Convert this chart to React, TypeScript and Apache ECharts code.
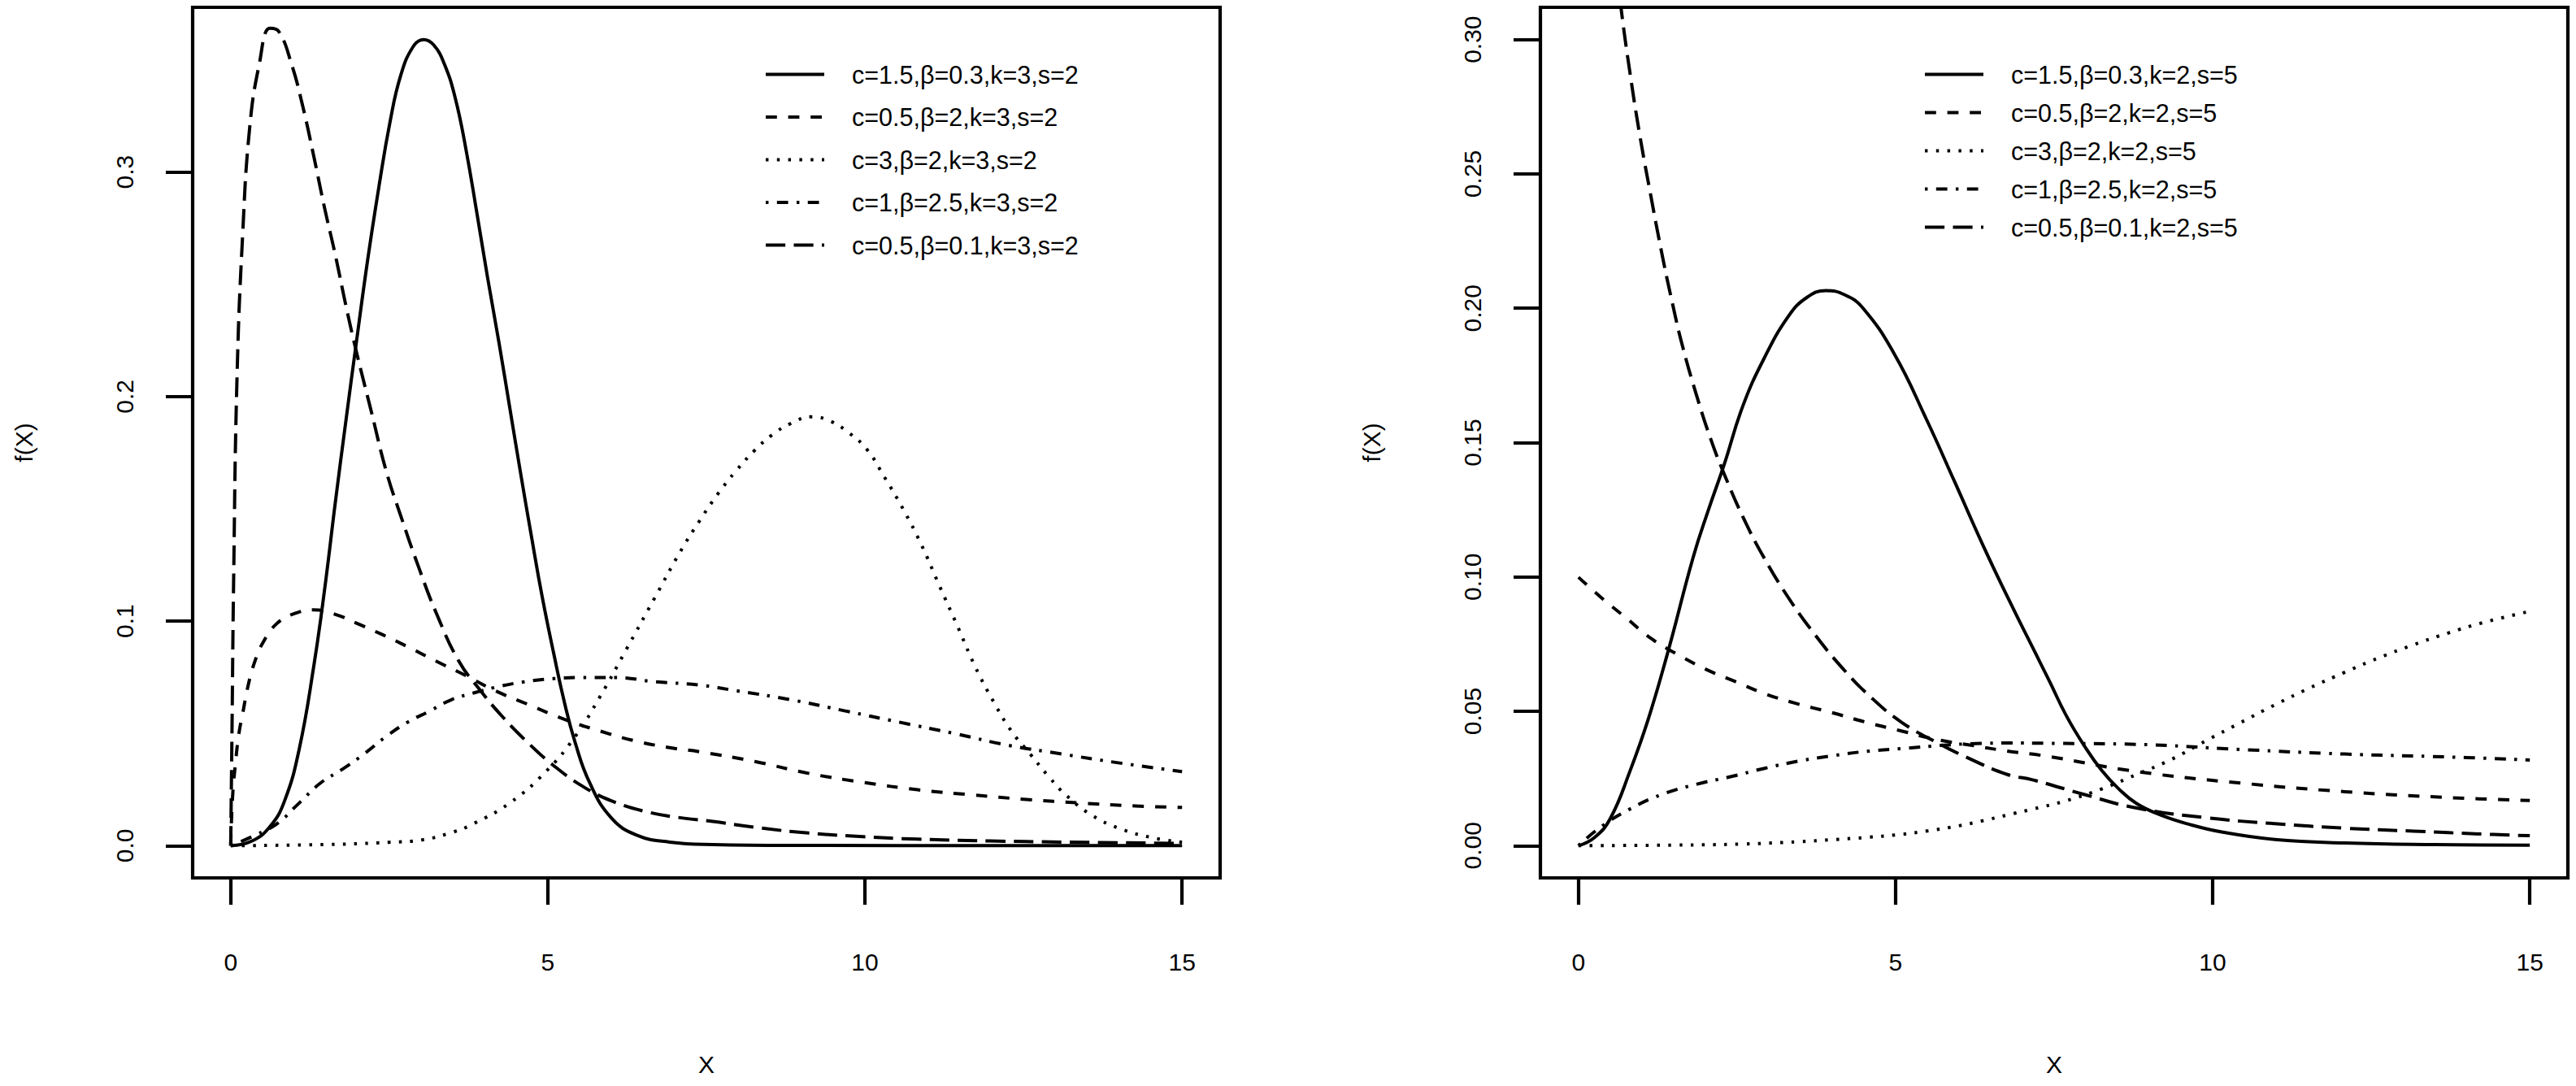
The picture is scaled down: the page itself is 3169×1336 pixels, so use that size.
import React, { useEffect, useRef } from "react";
import * as echarts from "echarts";

// ---------- ticks & labels ----------
const xTicks = [0, 5, 10, 15];
const leftYTicks = [0, 0.1, 0.2, 0.3];
const rightYTicks = [0, 0.05, 0.1, 0.15, 0.2, 0.25, 0.3];

const leftNames = [
  "c=1.5,β=0.3,k=3,s=2",
  "c=0.5,β=2,k=3,s=2",
  "c=3,β=2,k=3,s=2",
  "c=1,β=2.5,k=3,s=2",
  "c=0.5,β=0.1,k=3,s=2",
];
const rightNames = [
  "c=1.5,β=0.3,k=2,s=5",
  "c=0.5,β=2,k=2,s=5",
  "c=3,β=2,k=2,s=5",
  "c=1,β=2.5,k=2,s=5",
  "c=0.5,β=0.1,k=2,s=5",
];

// ---------- left panel (k=3, s=2) ----------
const leftSolid = [
  [0, 0], [0.33, 0.002], [0.62, 0.0085], [0.85, 0.02], [1.08, 0.043], [1.31, 0.08],
  [1.48, 0.114], [1.65, 0.153], [1.82, 0.19], [1.99, 0.226], [2.16, 0.261], [2.34, 0.294],
  [2.51, 0.322], [2.68, 0.343], [2.88, 0.356], [3.04, 0.359], [3.2, 0.3566], [3.37, 0.348],
  [3.54, 0.333], [3.71, 0.31], [3.88, 0.282], [4.05, 0.253], [4.23, 0.224], [4.4, 0.195],
  [4.57, 0.166], [4.74, 0.138], [4.91, 0.111], [5.09, 0.086], [5.26, 0.064], [5.43, 0.046],
  [5.66, 0.028], [6.0, 0.0124], [6.4, 0.0047], [6.92, 0.0016], [7.6, 0.0005], [9, 0.0001],
  [12, 0], [15, 0],
];
const leftDashed = [
  [0, 0], [0.03, 0.022], [0.08, 0.038], [0.13, 0.05], [0.19, 0.059], [0.28, 0.072],
  [0.38, 0.082], [0.5, 0.09], [0.73, 0.099], [1.02, 0.1035], [1.31, 0.105], [1.65, 0.103],
  [1.99, 0.099], [2.39, 0.094], [2.79, 0.0886], [3.25, 0.082], [3.71, 0.0757], [4.17, 0.069],
  [4.68, 0.063], [5.26, 0.0563], [5.83, 0.051], [6.4, 0.0465], [6.98, 0.0434], [7.4, 0.0418],
  [8.26, 0.0375], [9.11, 0.0322], [9.97, 0.0282], [10.83, 0.0249], [11.69, 0.0226],
  [12.54, 0.0206], [13.4, 0.019], [14.26, 0.0177], [15, 0.017],
];
const leftDotted = [
  [0, 0], [1.5, 0.0005], [2.5, 0.0015], [3.02, 0.0026], [3.5, 0.006], [3.83, 0.0098],
  [4.4, 0.019], [4.97, 0.033], [5.43, 0.0486], [5.83, 0.0667], [6.23, 0.087], [6.69, 0.1106],
  [7.09, 0.131], [7.4, 0.145], [7.69, 0.157], [7.97, 0.167], [8.26, 0.176], [8.54, 0.183],
  [8.83, 0.188], [9.17, 0.191], [9.46, 0.189], [9.74, 0.184], [10.03, 0.1765], [10.31, 0.164],
  [10.6, 0.15], [10.89, 0.134], [11.17, 0.116], [11.46, 0.0977], [11.74, 0.0796],
  [12.03, 0.064], [12.31, 0.051], [12.6, 0.041], [12.89, 0.031], [13.17, 0.0225],
  [13.57, 0.0137], [14.03, 0.0075], [14.54, 0.0035], [15, 0.0015],
];
const leftDotdash = [
  [0, 0], [0.39, 0.0047], [0.73, 0.0098], [1.08, 0.019], [1.42, 0.028], [1.76, 0.034],
  [2.11, 0.041], [2.45, 0.0486], [2.79, 0.055], [3.14, 0.06], [3.48, 0.065], [3.83, 0.068],
  [4.17, 0.0705], [4.63, 0.073], [5.09, 0.0744], [5.54, 0.0749], [6.06, 0.0749], [6.69, 0.073],
  [7.4, 0.0715], [7.97, 0.069], [8.83, 0.065], [9.69, 0.06], [10.54, 0.055], [11.4, 0.05],
  [12.26, 0.0447], [13.11, 0.0408], [13.97, 0.037], [15, 0.033],
];
const leftLongdash = [
  [0, 0], [0.02, 0.05], [0.046, 0.118], [0.1, 0.209], [0.19, 0.273], [0.3, 0.32],
  [0.45, 0.348], [0.62, 0.364], [0.76, 0.3625], [0.96, 0.348], [1.13, 0.33], [1.31, 0.307],
  [1.48, 0.284], [1.65, 0.263], [1.82, 0.24], [1.99, 0.219], [2.22, 0.193], [2.45, 0.167],
  [2.68, 0.147], [2.97, 0.1235], [3.25, 0.103], [3.6, 0.082], [3.94, 0.069], [4.28, 0.0576],
  [4.68, 0.046], [5.09, 0.0357], [5.54, 0.0266], [6.0, 0.02], [6.57, 0.015], [7.15, 0.0122],
  [7.6, 0.0108], [8.26, 0.0082], [9.11, 0.0056], [9.97, 0.004], [10.83, 0.0029],
  [11.97, 0.0021], [13.11, 0.0016], [15, 0.001],
];

// ---------- right panel (k=2, s=5) ----------
const rightSolid = [
  [0, 0], [0.25, 0.003], [0.5, 0.01], [0.81, 0.0276], [1.1, 0.047], [1.42, 0.0729],
  [1.81, 0.1074], [2.05, 0.125], [2.3, 0.142], [2.59, 0.1635], [2.92, 0.181], [3.31, 0.197],
  [3.6, 0.204], [3.9, 0.2066], [4.2, 0.205], [4.48, 0.2002], [4.98, 0.183], [5.48, 0.159],
  [5.93, 0.1355], [6.38, 0.1117], [6.77, 0.0923], [7.27, 0.0686], [7.43, 0.061], [7.7, 0.048],
  [7.98, 0.037], [8.25, 0.028], [8.52, 0.0211], [8.8, 0.0157], [9.18, 0.0114], [9.62, 0.008],
  [10.16, 0.005], [10.98, 0.0023], [12.08, 0.001], [13.5, 0.0004], [15, 0.0002],
];
const rightDashed = [
  [0, 0.0999], [0.36, 0.0923], [0.75, 0.0848], [1.14, 0.0772], [1.59, 0.0708], [2.03, 0.0654],
  [2.48, 0.061], [2.92, 0.0567], [3.42, 0.053], [3.98, 0.0496], [4.54, 0.0459], [5.09, 0.0427],
  [5.65, 0.0395], [6.21, 0.0373], [6.76, 0.0352], [7.38, 0.0333], [8.8, 0.0276],
  [10.44, 0.0233], [12.08, 0.0201], [13.72, 0.0179], [15, 0.0168],
];
const rightDotted = [
  [0, 0], [1.5, 0.0002], [2.59, 0.0006], [3.5, 0.0015], [3.98, 0.0022], [4.5, 0.003],
  [5.09, 0.0042], [5.5, 0.0055], [5.93, 0.0071], [6.38, 0.0093], [6.76, 0.0114], [7.16, 0.0136],
  [7.7, 0.0168], [8.25, 0.0211], [8.8, 0.0265], [9.34, 0.032], [9.89, 0.039], [10.44, 0.0458],
  [10.98, 0.0524], [11.53, 0.0587], [12.08, 0.0645], [12.62, 0.0699], [13.17, 0.0748],
  [13.72, 0.0792], [14.26, 0.083], [15, 0.0872],
];
const rightDotdash = [
  [0, 0], [0.36, 0.0071], [0.81, 0.0136], [1.31, 0.019], [1.87, 0.0229], [2.37, 0.0255],
  [2.92, 0.0287], [3.48, 0.0315], [4.04, 0.0336], [4.59, 0.0352], [5.15, 0.0362], [5.71, 0.0373],
  [6.26, 0.038], [6.82, 0.0382], [7.38, 0.0381], [8.8, 0.0377], [10.44, 0.0358],
  [12.08, 0.0341], [13.72, 0.033], [15, 0.0319],
];
const rightLongdash = [
  [0.5, 0.346], [0.67, 0.312], [0.81, 0.288], [0.97, 0.264], [1.14, 0.242], [1.31, 0.221],
  [1.48, 0.202], [1.64, 0.186], [1.87, 0.167], [2.09, 0.151], [2.31, 0.1376], [2.59, 0.1225],
  [2.92, 0.1074], [3.31, 0.0923], [3.7, 0.0794], [4.15, 0.0664], [4.59, 0.0557], [5.09, 0.046],
  [5.65, 0.0384], [6.21, 0.0319], [6.76, 0.0265], [7.16, 0.0245], [7.98, 0.019], [8.8, 0.014],
  [9.89, 0.0104], [10.98, 0.0082], [12.08, 0.0065], [13.17, 0.0054], [14.26, 0.0043],
  [15, 0.0037],
];

const leftData = [leftSolid, leftDashed, leftDotted, leftDotdash, leftLongdash];
const rightData = [rightSolid, rightDashed, rightDotted, rightDotdash, rightLongdash];

// ---------- styling ----------
const FF = "'Liberation Sans', Arial, Helvetica, sans-serif";
const LW = 4;
const BW = 4.2;
const U = 3.45;
const dashes: any[] = [
  "solid",
  [4 * U, 4 * U],
  [1 * U, 3 * U],
  [1 * U, 3 * U, 4 * U, 3 * U],
  [7 * U, 3 * U],
];

function makeAxes(gridIndex: number, yMin: number, yMax: number, yTicks: number[], digits: number, yLabelMargin: number, yNameGap: number) {
  const x = {
    type: "value",
    gridIndex,
    min: -0.6,
    max: 15.6,
    axisLine: { show: false, onZero: false },
    axisTick: { show: true, length: 33, inside: false, customValues: xTicks, lineStyle: { color: "#000", width: BW } },
    axisLabel: { show: true, customValues: xTicks, margin: 88, fontSize: 30, fontFamily: FF, color: "#000" },
    splitLine: { show: false },
    name: "X",
    nameLocation: "middle",
    nameGap: 214,
    nameTextStyle: { fontSize: 30, fontFamily: FF, color: "#000" },
  };
  const y = {
    type: "value",
    gridIndex,
    min: yMin,
    max: yMax,
    axisLine: { show: false, onZero: false },
    axisTick: { show: true, length: 33, inside: false, customValues: yTicks, lineStyle: { color: "#000", width: BW } },
    axisLabel: {
      show: true,
      customValues: yTicks,
      rotate: 90,
      margin: yLabelMargin,
      fontSize: 30,
      fontFamily: FF,
      color: "#000",
      formatter: (v: number) => v.toFixed(digits),
    },
    splitLine: { show: false },
    name: "f(X)",
    nameLocation: "middle",
    nameGap: yNameGap,
    nameTextStyle: { fontSize: 30, fontFamily: FF, color: "#000" },
  };
  return { x, y };
}

function makeSeries(names: string[], data: number[][][], gridIndex: number) {
  return names.map((name, i) => ({
    type: "line",
    name,
    data: data[i],
    xAxisIndex: gridIndex,
    yAxisIndex: gridIndex,
    symbol: "none",
    smooth: 0.45,
    clip: true,
    silent: true,
    emphasis: { disabled: true },
    lineStyle: { color: "#000", width: LW, type: dashes[i], cap: "butt", join: "round" },
    itemStyle: { color: "#000" },
  }));
}

function makeLegend(names: string[], left: number, top: number, gap: number) {
  return {
    data: names,
    orient: "vertical",
    left,
    top,
    padding: 0,
    itemWidth: 72,
    itemHeight: 34,
    itemGap: gap,
    selectedMode: false,
    itemStyle: { opacity: 0 },
    lineStyle: { width: LW },
    textStyle: { fontSize: 30.5, fontFamily: FF, color: "#000", padding: [0, 0, 0, 29] },
  };
}

export default function App() {
  const ref = useRef<HTMLDivElement>(null);
  useEffect(() => {
    if (!ref.current) return;
    const chart = echarts.init(ref.current, null, { renderer: "svg" });
    const L = makeAxes(0, -0.01436, 0.37336, leftYTicks, 1, 69, 193);
    const R = makeAxes(1, -0.012, 0.312, rightYTicks, 2, 69, 193);
    chart.setOption({
      animation: false,
      backgroundColor: "#ffffff",
      grid: [
        { left: 237, top: 9, width: 1264, height: 1071, show: true, borderColor: "#000", borderWidth: BW, backgroundColor: "transparent", containLabel: false },
        { left: 1895, top: 9, width: 1264, height: 1071, show: true, borderColor: "#000", borderWidth: BW, backgroundColor: "transparent", containLabel: false },
      ],
      xAxis: [L.x, R.x],
      yAxis: [L.y, R.y],
      legend: [makeLegend(leftNames, 940, 76, 21.5), makeLegend(rightNames, 2366, 76, 16)],
      series: [...makeSeries(leftNames, leftData, 0), ...makeSeries(rightNames, rightData, 1)],
    });
    return () => chart.dispose();
  }, []);
  return (
    <div
      ref={ref}
      style={{ position: "absolute", left: 0, top: 0, width: 3169, height: 1336, background: "#fff" }}
    />
  );
}
